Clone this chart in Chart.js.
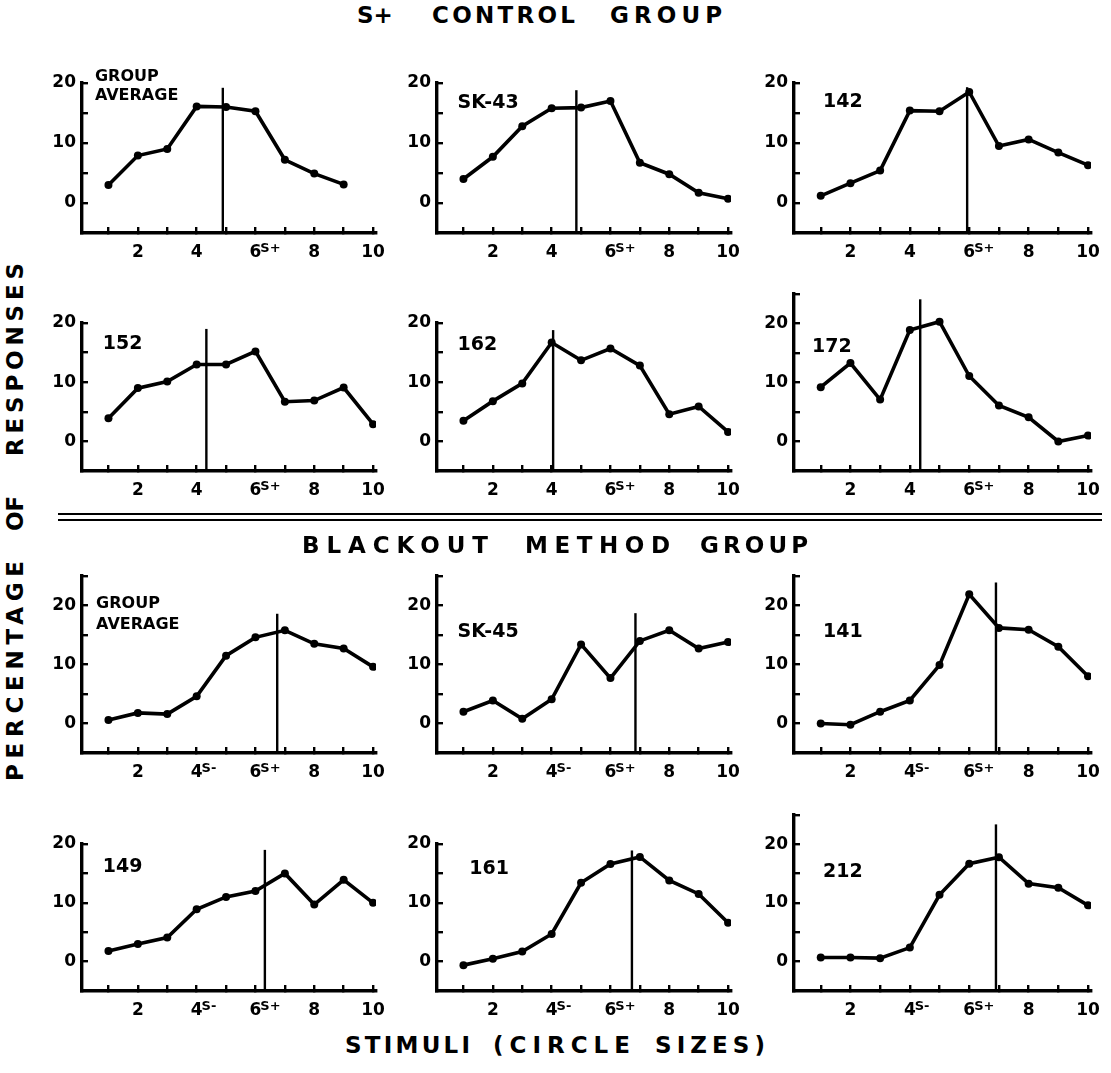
<!DOCTYPE html>
<html>
<head>
<meta charset="utf-8">
<script src="https://cdn.jsdelivr.net/npm/chart.js@4.4.1/dist/chart.umd.min.js"></script>
<style>
  body { margin: 0; background: #fff; }
  #fig { position: relative; width: 1111px; height: 1073px; overflow: hidden;
         font-family: "DejaVu Sans", sans-serif; font-weight: bold; color: #000; }
  #fig canvas { position: absolute; }
  .word { position: absolute; white-space: nowrap; line-height: 1; }
  .rule { position: absolute; left: 58px; width: 1044px; height: 2px; background: #000; }
  #side { position: absolute; left: 4px; top: 781px; width: 560px; height: 24px;
          transform-origin: 0 0; transform: rotate(-90deg); }
</style>
</head>
<body>
<div id="fig">
  <div class="rule" style="top:513px"></div>
  <div class="rule" style="top:519px"></div>
  <div id="side"></div>
</div>
<script>
// stimuli (circle sizes)
const categories = [1, 2, 3, 4, 5, 6, 7, 8, 9, 10];
const xTickLabels = ['', '2', '', '4', '', '6', '', '8', '', '10'];
const yTickValues = [0, 5, 10, 15, 20, 25];
const yTickLabels = ['0', '', '10', '', '20', ''];

// percentage of responses, S+ control group
const controlAverage = [3.0, 7.9, 9.0, 16.1, 16.0, 15.3, 7.2, 4.9, 3.1];
const sk43 = [4.0, 7.7, 12.8, 15.8, 15.9, 17.0, 6.7, 4.8, 1.7, 0.7];
const bird142 = [1.2, 3.3, 5.4, 15.4, 15.3, 18.5, 9.5, 10.6, 8.4, 6.3];
const bird152 = [3.9, 9.0, 10.1, 13.0, 13.0, 15.2, 6.7, 6.9, 9.1, 2.9];
const bird162 = [3.5, 6.8, 9.8, 16.7, 13.7, 15.7, 12.8, 4.6, 5.9, 1.6];
const bird172 = [9.2, 13.3, 7.1, 18.9, 20.3, 11.1, 6.1, 4.1, 0.0, 1.0];

// percentage of responses, blackout method group
const blackoutAverage = [0.6, 1.8, 1.6, 4.6, 11.5, 14.6, 15.8, 13.5, 12.7, 9.6];
const sk45 = [2.0, 3.9, 0.8, 4.1, 13.4, 7.7, 14.0, 15.8, 12.7, 13.8];
const bird141 = [0.0, -0.2, 2.0, 3.9, 9.9, 21.9, 16.2, 15.9, 13.0, 8.0];
const bird149 = [1.8, 3.0, 4.1, 8.9, 11.0, 12.0, 15.0, 9.7, 13.9, 10.0];
const bird161 = [-0.6, 0.5, 1.7, 4.7, 13.4, 16.6, 17.8, 13.8, 11.5, 6.6];
const bird212 = [0.7, 0.7, 0.6, 2.4, 11.4, 16.7, 17.8, 13.3, 12.6, 9.6];

const panelNames = [['GROUP', 'AVERAGE'], ['SK-43'], ['142'], ['152'], ['162'], ['172'],
                    ['GROUP', 'AVERAGE'], ['SK-45'], ['141'], ['149'], ['161'], ['212']];
const panelSeries = [controlAverage, sk43, bird142, bird152, bird162, bird172,
                     blackoutAverage, sk45, bird141, bird149, bird161, bird212];
// vertical marker line (x value and its top)
const markerX = [4.89, 4.84, 5.93, 4.33, 4.05, 4.35, 6.74, 6.85, 6.9, 6.32, 6.73, 6.9];
const markerTop = [19.2, 18.8, 19.3, 19.0, 18.8, 24.1, 18.6, 18.7, 23.9, 19.0, 18.9, 23.4];
const axisTop = [20, 20, 20, 20, 20, 25, 25, 25, 25, 20, 20, 25];
// superscripts on the x labels
const controlMarks = [[6, 'S+']];
const blackoutMarks = [[4, 'S-'], [6, 'S+']];

// layout of the grid of panels (pixels)
const colLeft = [82, 437, 794];
const colUnit = [29.4, 29.4, 29.7];
const rowZero = [203, 441, 723, 962];
const rowUnit = [6.0, 5.9, 5.9, 5.88];
// where the panel names sit, in data units: x, y of each line
const namePos = [[0.54, 21.0, 17.8], [0.8, 16.6], [1.08, 16.9], [0.81, 16.4], [0.8, 16.2], [0.71, 16.0],
                 [0.58, 20.3, 16.7], [0.8, 15.5], [1.08, 15.5], [0.81, 16.1], [1.2, 15.8], [1.08, 15.3]];

const FONT = '"DejaVu Sans", sans-serif';
const PAD_T = 24, AX_W = 50, AX_H = 34, PAD_R = 16;

const panelText = {
  id: 'panelText',
  afterDraw(chart) {
    const ctx = chart.ctx;
    const xs = chart.scales.x, ys = chart.scales.y;
    const o = chart.options.plugins.panelText;
    ctx.save();
    ctx.fillStyle = '#000';
    ctx.textAlign = 'left';
    ctx.textBaseline = 'middle';
    const size = o.name.length > 1 ? 16 : 19;
    ctx.font = 'bold ' + size + 'px ' + FONT;
    o.name.forEach((t, k) => {
      ctx.fillText(t, xs.getPixelForValue(o.pos[0]), ys.getPixelForValue(o.pos[k + 1]));
    });
    // superscripts S+ / S-
    ctx.font = 'bold 17px ' + FONT;
    const labelMid = xs.top + 9 + 10.2;
    o.marks.forEach(m => {
      const w = ctx.measureText(String(m[0])).width;
      const px = xs.getPixelForValue(m[0]) + w / 2 - 1;
      ctx.save();
      ctx.font = 'bold 13px ' + FONT;
      ctx.textBaseline = 'alphabetic';
      ctx.fillText(m[1], px, labelMid);
      ctx.restore();
    });
    ctx.restore();
  }
};

const fig = document.getElementById('fig');

panelSeries.forEach((values, i) => {
  const r = Math.floor(i / 3), c = i % 3;
  const top = axisTop[i];
  const areaTop = Math.round(rowZero[r] - top * rowUnit[r]);
  const areaBottom = Math.round(rowZero[r] + 5 * rowUnit[r]);
  const areaW = Math.round(10 * colUnit[c]);
  const canvas = document.createElement('canvas');
  canvas.width = AX_W + areaW + PAD_R;
  canvas.height = PAD_T + (areaBottom - areaTop) + AX_H;
  canvas.style.left = (colLeft[c] - AX_W) + 'px';
  canvas.style.top = (areaTop - PAD_T) + 'px';
  fig.appendChild(canvas);

  const tickFont = { family: FONT, weight: 'bold', size: 17 };
  new Chart(canvas, {
    type: 'line',
    data: {
      datasets: [
        {
          data: values.map((v, k) => ({ x: categories[k], y: v })),
          borderColor: '#000', backgroundColor: '#000', borderWidth: 3.6,
          pointRadius: 4, pointBorderWidth: 0, pointBackgroundColor: '#000', tension: 0
        },
        {
          data: [{ x: markerX[i], y: -5 }, { x: markerX[i], y: markerTop[i] }],
          borderColor: '#000', borderWidth: 2.4, pointRadius: 0
        }
      ]
    },
    options: {
      responsive: false, animation: false, devicePixelRatio: 1, events: [],
      layout: { padding: { top: PAD_T, right: PAD_R, left: 0, bottom: 0 } },
      plugins: {
        legend: { display: false }, tooltip: { enabled: false },
        panelText: { name: panelNames[i], pos: namePos[i], marks: r < 2 ? controlMarks : blackoutMarks }
      },
      scales: {
        x: {
          type: 'linear', min: 0.1, max: 10.1,
          afterBuildTicks: s => { s.ticks = categories.map(v => ({ value: v })); },
          afterFit: s => { s.height = AX_H; s.paddingLeft = 0; s.paddingRight = 0; },
          grid: { drawOnChartArea: false, drawTicks: true, tickLength: -6, color: '#000', lineWidth: 2.4 },
          border: { display: true, color: '#000', width: 3.4 },
          ticks: {
            padding: 15, autoSkip: false, maxRotation: 0, color: '#000', font: tickFont,
            callback: v => xTickLabels[categories.indexOf(v)] || ''
          }
        },
        y: {
          min: -5, max: top,
          afterBuildTicks: s => { s.ticks = yTickValues.filter(v => v <= top).map(v => ({ value: v })); },
          afterFit: s => { s.width = AX_W; s.paddingTop = 0; s.paddingBottom = 0; },
          grid: { drawOnChartArea: false, drawTicks: true, tickLength: -6, color: '#000', lineWidth: 2.4 },
          border: { display: true, color: '#000', width: 3.4 },
          ticks: {
            padding: 12, color: '#000', font: tickFont,
            callback: v => yTickLabels[yTickValues.indexOf(v)] || ''
          }
        }
      }
    },
    plugins: [panelText]
  });
});

// headings, words spread out to the widths of the original
const measure = document.createElement('canvas').getContext('2d');
function word(parent, text, left, cy, width, size) {
  const s = document.createElement('span');
  s.className = 'word';
  s.textContent = text;
  s.style.fontSize = size + 'px';
  measure.font = 'bold ' + size + 'px ' + FONT;
  const natural = measure.measureText(text).width;
  if (text.length > 1) s.style.letterSpacing = Math.max(0, (width - natural) / (text.length - 1)) + 'px';
  s.style.left = left + 'px';
  s.style.top = (cy - 0.48 * size) + 'px';
  parent.appendChild(s);
}
const headings = [
  ['S+', 357, 15, 35], ['CONTROL', 432, 15, 143], ['GROUP', 610, 15, 112],
  ['BLACKOUT', 302, 545, 186], ['METHOD', 525, 545, 145], ['GROUP', 700, 545, 108],
  ['STIMULI', 345, 1045, 125], ['(CIRCLE', 493, 1045, 137], ['SIZES)', 655, 1045, 110]
];
headings.forEach(h => word(fig, h[0], h[1], h[2], h[3], 23));
const side = document.getElementById('side');
[['PERCENTAGE', 0, 220], ['OF', 250, 0], ['RESPONSES', 325, 193]]
  .forEach(h => word(side, h[0], h[1], 11, h[2], 23));
</script>
</body>
</html>
